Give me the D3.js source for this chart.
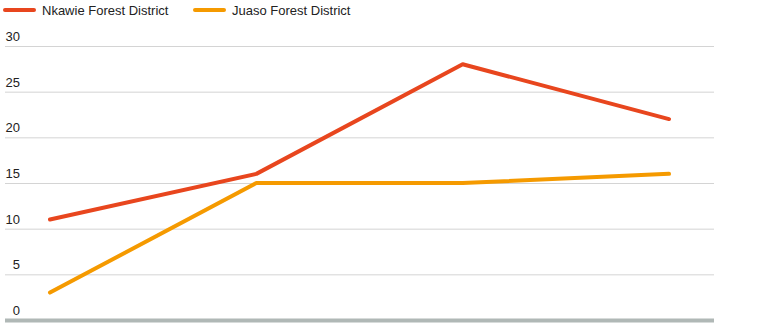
<!DOCTYPE html>
<html>
<head>
<meta charset="utf-8">
<script src="https://cdn.jsdelivr.net/npm/d3@7"></script>
<style>
  html, body { margin: 0; padding: 0; background: #fff; }
  svg { display: block; font-family: "Liberation Sans", Arial, sans-serif; }
</style>
</head>
<body>
<svg id="chart" width="764" height="334"></svg>
<script>
// Survey periods (not labelled on the axis)
const periods = ["Period 1", "Period 2", "Period 3", "Period 4"];
const nkawie = [11, 16, 28, 22];
const juaso = [3, 15, 15, 16];
const yTicks = [0, 5, 10, 15, 20, 25, 30];

const series = [
  { name: "Nkawie Forest District", values: nkawie, color: "#e8461e" },
  { name: "Juaso Forest District", values: juaso, color: "#f59a00" }
];

const svg = d3.select("#chart");
const plotLeft = 5, plotRight = 714, plotTop = 46, plotBottom = 320;

const x = d3.scalePoint().domain(periods).range([plotLeft, plotRight]).padding(0.218);
const y = d3.scaleLinear().domain([0, 30]).range([plotBottom, plotTop]);

// Gridlines and tick labels
const grid = svg.append("g");
yTicks.filter(t => t > 0).forEach(t => {
  grid.append("line")
    .attr("x1", plotLeft).attr("x2", plotRight)
    .attr("y1", y(t) + 0.5).attr("y2", y(t) + 0.5)
    .attr("stroke", "#d4d4d4").attr("stroke-width", 1);
});
grid.selectAll("text").data(yTicks).join("text")
  .attr("x", 20).attr("y", d => y(d) - 5)
  .attr("text-anchor", "end")
  .attr("font-size", 13).attr("fill", "#222")
  .text(d => d);

// Baseline
svg.append("line")
  .attr("x1", plotLeft).attr("x2", plotRight)
  .attr("y1", y(0) + 0.5).attr("y2", y(0) + 0.5)
  .attr("stroke", "#b0b8b6").attr("stroke-width", 4);

// Lines
const line = d3.line().x((d, i) => x(periods[i])).y(d => y(d));
svg.selectAll("path.series").data(series).join("path")
  .attr("class", "series")
  .attr("d", d => line(d.values))
  .attr("fill", "none")
  .attr("stroke", d => d.color)
  .attr("stroke-width", 4)
  .attr("stroke-linecap", "round")
  .attr("stroke-linejoin", "round");

// Legend
const legendX = [4, 194];
const lg = svg.selectAll("g.legend").data(series).join("g")
  .attr("class", "legend")
  .attr("transform", (d, i) => `translate(${legendX[i]},10)`);
lg.append("line")
  .attr("x1", 1).attr("x2", 30).attr("y1", 0).attr("y2", 0)
  .attr("stroke", d => d.color).attr("stroke-width", 4)
  .attr("stroke-linecap", "round");
lg.append("text")
  .attr("x", 38).attr("y", 5)
  .attr("font-size", 13).attr("fill", "#222")
  .text(d => d.name);
</script>
</body>
</html>
